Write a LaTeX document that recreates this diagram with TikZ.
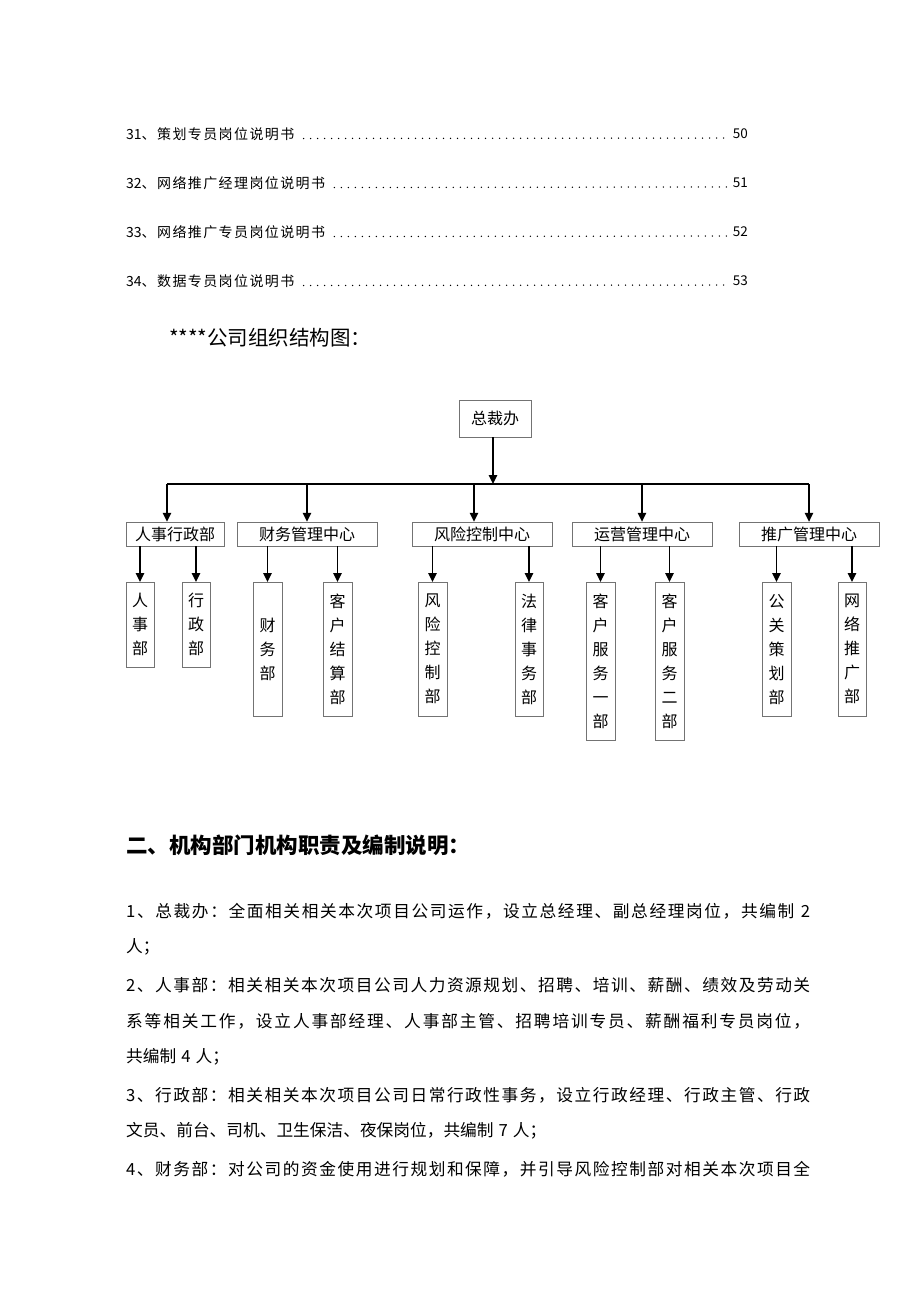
\documentclass[tikz,border=0pt]{standalone}
\usepackage{fontspec}
\setmainfont{Noto Sans CJK SC}
\newfontfamily\tocfont[LetterSpace=10]{Noto Sans CJK SC}
\usetikzlibrary{arrows.meta}

% justified line: glue between every character
\newcommand\jline[2]{\makebox[#1][s]{\jlfirst#2\relax}}
\def\jlfirst#1{#1\jlrest}
\def\jlrest#1{\ifx\relax#1\else\hfil#1\expandafter\jlrest\fi}

\begin{document}
\begin{tikzpicture}[x=1pt,y=-1pt,
  tocitem/.style={anchor=west,inner sep=0pt,font=\fontsize{14}{15}\selectfont},
  tocpage/.style={anchor=east,inner sep=0pt,font=\fontsize{13.5}{14}\selectfont},
  leader/.style={line width=1.5pt,line cap=round,dash pattern=on 0pt off 7pt,shorten <=9pt,shorten >=3pt},
  body/.style={anchor=west,inner sep=0pt,font=\fontsize{16.7}{18}\selectfont},
  chart/.style={font=\fontsize{16}{24}\selectfont,inner sep=0pt},
  topbox/.style={chart,draw=black!55,minimum width=72,minimum height=37},
  midbox/.style={chart,draw=black!55,minimum height=24},
  subbox/.style={chart,draw=black!55,anchor=north,minimum width=28.5,align=center},
  line/.style={line width=1.4pt},
  conn/.style={line,-{Triangle[length=9pt,width=8.5pt]}}]
\useasboundingbox (0,0) rectangle (920,1301);

% contents
\foreach \n/\y/\t in {31/134/策划专员岗位说明书,32/183/网络推广经理岗位说明书,
    33/232/网络推广专员岗位说明书,34/281/数据专员岗位说明书}{
  \pgfmathtruncatemacro\pg{\n+19}
  \node[tocitem] (t\n) at (126,\y) {\n{\tocfont 、\t}};
  \node[tocpage] (p\n) at (748,\y) {\pg};
  \draw[leader] ([yshift=0.8pt]t\n.base east) -- ([yshift=0.8pt]p\n.base west);
}

\node[anchor=west,inner sep=0pt,font=\fontsize{20.5}{22}\selectfont] (title) at (169,338) {****公司组织结构图：};

% chart
\node[topbox] (zcb) at (495,418.5) {总裁办};
\coordinate (bus) at (493,484);
\foreach \n/\x in {1/167,2/307,3/474,4/642,5/809}
  \coordinate (b\n) at (\x,484);
\draw[conn] (zcb.south -| bus) -- (bus);
\draw[line] (b1) -- (b5);

\node[midbox,minimum width=98] (rx) at (175,534) {人事行政部};
\node[midbox,minimum width=140] (cw) at (307,534) {财务管理中心};
\node[midbox,minimum width=140] (fk) at (482,534) {风险控制中心};
\node[midbox,minimum width=140] (yy) at (642,534) {运营管理中心};
\node[midbox,minimum width=140] (tg) at (809,534) {推广管理中心};
\foreach \n/\m in {1/rx,2/cw,3/fk,4/yy,5/tg}
  \draw[conn] (b\n) -- (b\n |- \m.north);

\node[subbox,minimum height=85] (rsb) at (140,582) {人\\事\\部};
\node[subbox,minimum height=85] (xzb) at (196,582) {行\\政\\部};
\node[subbox,minimum height=134] (cwb) at (267.5,582) {财\\务\\部};
\node[subbox,minimum height=134] (khjs) at (337.5,582) {客\\户\\结\\算\\部};
\node[subbox,minimum height=134] (fkb) at (432.5,582) {风\\险\\控\\制\\部};
\node[subbox,minimum height=134] (flsw) at (529,582) {法\\律\\事\\务\\部};
\node[subbox,minimum height=158] (kf1) at (600.5,582) {客\\户\\服\\务\\一\\部};
\node[subbox,minimum height=158] (kf2) at (669.5,582) {客\\户\\服\\务\\二\\部};
\node[subbox,minimum height=134] (gg) at (776.5,582) {公\\关\\策\\划\\部};
\node[subbox,minimum height=134] (wl) at (852,582) {网\\络\\推\\广\\部};
\foreach \a/\b in {rx/rsb,rx/xzb,cw/cwb,cw/khjs,fk/fkb,fk/flsw,yy/kf1,yy/kf2,tg/gg,tg/wl}
  \draw[conn] (\a.south -| \b.north) -- (\b.north);

% text below
\node[anchor=west,inner sep=0pt,font=\bfseries\fontsize{21.5}{22}\selectfont] (h2) at (126,845) {二、机构部门机构职责及编制说明：};
\node[body] (l1) at (126,911) {\jline{684pt}{1、总裁办：全面相关相关本次项目公司运作，设立总经理、副总经理岗位，共编制{\hspace{5pt}2}}};
\node[body] (l2) at (126,947) {人；};
\node[body] (l3) at (126,985) {\jline{684pt}{2、人事部：相关相关本次项目公司人力资源规划、招聘、培训、薪酬、绩效及劳动关}};
\node[body] (l4) at (126,1021) {\jline{684pt}{系等相关工作，设立人事部经理、人事部主管、招聘培训专员、薪酬福利专员岗位，}};
\node[body] (l5) at (126,1057) {共编制\hspace{5pt}4\hspace{5pt}人；};
\node[body] (l6) at (126,1095) {\jline{684pt}{3、行政部：相关相关本次项目公司日常行政性事务，设立行政经理、行政主管、行政}};
\node[body] (l7) at (126,1131) {文员、前台、司机、卫生保洁、夜保岗位，共编制\hspace{5pt}7\hspace{5pt}人；};
\node[body] (l8) at (126,1169) {\jline{684pt}{4、财务部：对公司的资金使用进行规划和保障，并引导风险控制部对相关本次项目全}};
\end{tikzpicture}
\end{document}
